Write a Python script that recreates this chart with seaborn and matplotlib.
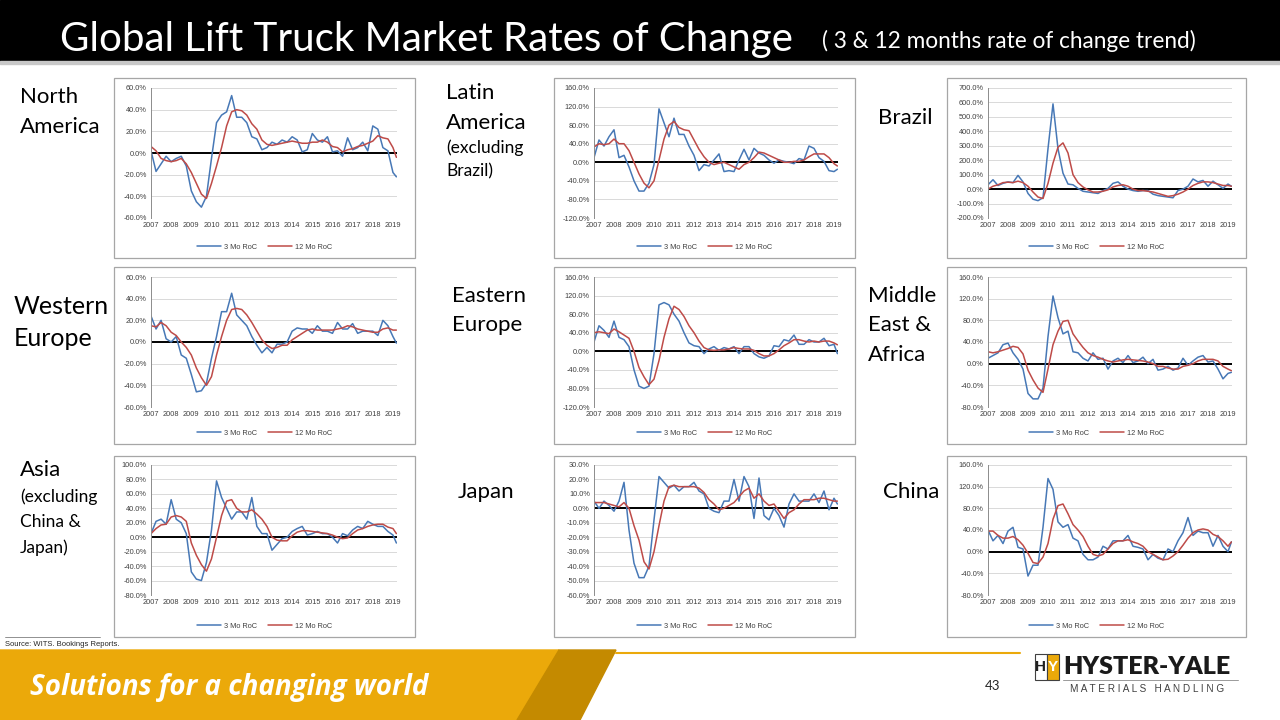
import numpy as np
import matplotlib
matplotlib.use("Agg")
import matplotlib.pyplot as plt
from matplotlib.patches import Rectangle, Polygon
from matplotlib.lines import Line2D
from matplotlib.ticker import FuncFormatter, MultipleLocator
import seaborn as sns

# quarterly readings Jan 2007 .. Jan 2019, plus the last one (Mar 2019)
periods = np.r_[np.arange(2007, 2019.01, 0.25), 2019.17]
years = list(range(2007, 2020))

# 3 month / 12 month rates of change, in %
na_3mo = [2, -17, -10, -3,  -8, -5, -3, -12,  -35, -45, -50, -40,  -5, 28, 35, 38,
          53, 33, 33, 28,  15, 13, 3, 5,  10, 8, 12, 10,  15, 12, 1, 3,
          18, 12, 10, 15,  1, 2, -3, 14,  3, 5, 10, 2,  25, 22, 5, 2,  -18, -22]
na_12mo = [6, 2, -5, -7,  -8, -7, -5, -10,  -18, -28, -38, -42,  -28, -12, 5, 25,
           38, 40, 39, 35,  27, 22, 12, 8,  7, 8, 9, 10,  11, 10, 9, 9,
           10, 10, 12, 10,  6, 5, 1, 3,  4, 6, 7, 9,  11, 16, 14, 13,  5, -4]

la_3mo = [10, 48, 35, 55,  70, 10, 15, -10,  -40, -62, -62, -45,  -5, 115, 85, 55,
          95, 60, 60, 35,  15, -18, -5, -8,  5, 18, -20, -18,  -20, 5, 28, 5,
          30, 20, 15, 5,  -2, 5, 2, 0,  -3, 8, 5, 35,  30, 10, 2, -18,  -20, -15]
la_12mo = [33, 40, 38, 40,  50, 40, 40, 25,  0, -25, -45, -55,  -40, 5, 50, 80,
           88, 75, 70, 68,  48, 28, 12, 0,  -5, -2, 0, -5,  -10, -15, -5, 0,
           10, 22, 20, 15,  10, 5, 0, 0,  2, 2, 5, 12,  18, 18, 18, 10,  -3, -8]

br_3mo = [30, 65, 25, 40,  50, 45, 95, 50,  -30, -70, -80, -60,  280, 590, 280, 110,
          35, 30, 5, -15,  -20, -25, -30, -10,  5, 40, 50, 20,  0, -10, -15, -10,
          -10, -35, -45, -50,  -55, -60, -10, 0,  20, 70, 50, 60,  20, 55, 30, 5,  35, 20]
br_12mo = [0, 20, 30, 45,  48, 45, 55, 45,  20, -20, -55, -65,  40, 180, 290, 320,
           250, 100, 45, 15,  -5, -20, -20, -15,  -5, 15, 25, 30,  20, 0, -10, -10,
           -15, -20, -30, -40,  -50, -45, -35, -20,  0, 25, 40, 50,  50, 45, 35, 25,  25, 20]

we_3mo = [24, 12, 20, 3,  0, 5, -12, -15,  -30, -46, -45, -38,  -15, 5, 28, 28,
          45, 25, 20, 15,  5, -3, -10, -5,  -10, -2, -2, 0,  10, 13, 12, 12,
          8, 15, 10, 10,  8, 18, 12, 12,  17, 8, 10, 10,  10, 6, 20, 15,  5, -1]
we_12mo = [15, 14, 18, 15,  9, 6, 0, -5,  -12, -24, -33, -40,  -32, -12, 5, 20,
           30, 31, 30, 25,  18, 10, 2, -3,  -6, -5, -3, -3,  2, 5, 8, 11,
           12, 11, 11, 11,  11, 12, 13, 15,  14, 12, 11, 10,  9, 9, 12, 13,  11, 11]

ee_3mo = [20, 55, 45, 30,  65, 30, 25, 10,  -40, -75, -80, -75,  -5, 100, 105, 100,
          80, 65, 40, 18,  12, 10, -5, 5,  10, 2, 8, 5,  10, -5, 10, 10,
          -5, -12, -15, -10,  12, 10, 25, 22,  35, 15, 15, 25,  20, 20, 28, 12,  15, -5]
ee_12mo = [40, 42, 40, 38,  48, 42, 35, 28,  0, -35, -55, -72,  -60, -20, 30, 70,
           97, 90, 75, 55,  40, 22, 8, 3,  2, 3, 3, 5,  8, 6, 5, 5,
           2, -5, -10, -10,  -5, 3, 12, 18,  25, 25, 22, 20,  22, 20, 22, 22,  18, 14]

me_3mo = [10, 15, 20, 35,  38, 20, 8, -10,  -55, -65, -65, -45,  50, 125, 85, 55,
          60, 22, 20, 10,  5, 20, 8, 10,  -10, 5, 10, 2,  15, 2, 5, 12,
          0, 8, -12, -10,  -5, -12, -8, 10,  -3, 5, 12, 15,  3, 5, -10, -28,  -18, -16]
me_12mo = [22, 20, 22, 25,  28, 32, 30, 18,  -12, -30, -45, -53,  -10, 35, 60, 78,
           80, 55, 42, 30,  20, 15, 12, 8,  5, 3, 5, 7,  8, 7, 6, 5,
           3, 0, -5, -5,  -8, -10, -10, -5,  -3, 0, 5, 8,  8, 8, 5, -5,  -10, -13]

as_3mo = [5, 22, 25, 18,  52, 25, 20, 5,  -48, -58, -60, -35,  10, 78, 55, 40,
          25, 35, 35, 25,  55, 15, 5, 5,  -18, -10, -2, 0,  8, 12, 15, 3,
          5, 8, 5, 5,  0, -8, 5, 2,  10, 15, 12, 22,  18, 15, 15, 8,  3, -8]
as_12mo = [5, 12, 17, 18,  28, 30, 28, 22,  -8, -25, -38, -47,  -30, 0, 30, 50,
           52, 40, 35, 35,  38, 32, 25, 15,  0, -4, -5, -5,  2, 7, 9, 9,
           8, 7, 6, 5,  3, 0, -2, -1,  5, 10, 12, 15,  17, 18, 18, 14,  12, 5]

jp_3mo = [5, 0, 5, 2,  -2, 5, 18, -15,  -38, -48, -48, -40,  -8, 22, 18, 14,
          16, 12, 15, 15,  18, 12, 10, 0,  -2, -3, 5, 5,  20, 5, 22, 15,
          -7, 21, -5, -8,  0, -5, -13, 3,  10, 5, 5, 5,  10, 4, 12, -1,  7, 3]
jp_12mo = [4, 4, 4, 3,  2, 1, 4, 0,  -12, -22, -37, -42,  -30, -12, 5, 15,
           16, 15, 15, 15,  15, 14, 11, 6,  3, -1, 0, 2,  4, 8, 12, 14,
           7, 10, 5, 2,  3, -2, -7, -3,  -1, 3, 6, 6,  6, 7, 7, 6,  5, 5]

cn_3mo = [40, 20, 30, 15,  38, 45, 8, 5,  -45, -25, -25, 45,  135, 115, 55, 45,
          50, 25, 20, -5,  -15, -15, -10, 10,  5, 20, 20, 20,  30, 10, 8, 5,
          -15, -5, -12, -15,  5, 0, 20, 35,  63, 30, 38, 35,  35, 10, 30, 10,  0, 18]
cn_12mo = [38, 38, 30, 25,  25, 28, 22, 12,  -3, -20, -22, -10,  15, 60, 85, 88,
           70, 50, 40, 28,  10, -5, -8, -5,  5, 15, 20, 20,  22, 18, 15, 10,
           0, -5, -10, -15,  -14, -8, 0, 12,  25, 35, 40, 42,  40, 32, 28, 20,  10, 18]

series_names = ["3 Mo RoC", "12 Mo RoC"]

charts = [
    (na_3mo, na_12mo, (-60, 60, 20), 0, 0),
    (la_3mo, la_12mo, (-120, 160, 40), 1, 0),
    (br_3mo, br_12mo, (-200, 700, 100), 2, 0),
    (we_3mo, we_12mo, (-60, 60, 20), 0, 1),
    (ee_3mo, ee_12mo, (-120, 160, 40), 1, 1),
    (me_3mo, me_12mo, (-80, 160, 40), 2, 1),
    (as_3mo, as_12mo, (-80, 100, 20), 0, 2),
    (jp_3mo, jp_12mo, (-60, 30, 10), 1, 2),
    (cn_3mo, cn_12mo, (-80, 160, 40), 2, 2),
]

# layout in pixels
W, H = 1280, 720
col_box = [(114, 415), (554, 855), (947, 1246)]
col_plot = [(151, 397), (594, 838), (988, 1232)]
row_box = [(78, 258), (267, 444), (456, 637)]
row_plot = [(88, 218), (277, 407), (465, 595)]

BLUE = "#4778B6"
RED = "#BE4B48"
GOLD = "#EBA90A"


def fx(x):
    return x / W


def fy(y):
    return 1 - y / H


sns.set_style("white")
plt.rcParams['font.family'] = ['Liberation Sans', 'DejaVu Sans']
narrow = ['Lato', 'DejaVu Sans']

fig = plt.figure(figsize=(12.8, 7.2), dpi=100)
fig.patch.set_facecolor("white")

# title bar
fig.add_artist(Rectangle((0, fy(61)), 1, 61 / H, transform=fig.transFigure, color="black"))
fig.add_artist(Rectangle((0, fy(64)), 1, 3 / H, transform=fig.transFigure, color="#c8c8c8"))
fig.text(fx(60), fy(51), "Global Lift Truck Market Rates of Change", color="white",
         fontsize=29, family=narrow, va="baseline")
fig.text(fx(822), fy(48), "( 3 & 12 months rate of change trend)", color="white",
         fontsize=16.3, family=narrow, va="baseline")

pct = FuncFormatter(lambda v, p: f"{v:.1f}%")

for blue, red, (lo, hi, step), col, row in charts:
    bl, br = col_box[col]
    bt, bb = row_box[row]
    fig.add_artist(Rectangle((fx(bl), fy(bb)), (br - bl) / W, (bb - bt) / H,
                             transform=fig.transFigure, fill=False, ec="#a6a6a6", lw=0.9))
    l, r = col_plot[col]
    t, b = row_plot[row]
    ax = fig.add_axes([fx(l), fy(b), (r - l) / W, (b - t) / H])
    ax.set_facecolor("white")
    ax.set_axisbelow(True)
    ax.yaxis.grid(True, color="#d9d9d9", lw=0.7)
    ax.axhline(0, color="black", lw=1.4, zorder=1.5)
    sns.lineplot(x=periods, y=blue, ax=ax, color=BLUE, lw=1.1, legend=False)
    sns.lineplot(x=periods, y=red, ax=ax, color=RED, lw=1.1, legend=False)
    ax.set_xlim(2007, 2019.2)
    ax.set_ylim(lo, hi)
    ax.yaxis.set_major_locator(MultipleLocator(step))
    ax.yaxis.set_major_formatter(pct)
    ax.set_xticks(years)
    ax.set_xticklabels([str(y) for y in years])
    ax.tick_params(length=0, labelsize=5.3, pad=3, colors="#404040")
    ax.set_xlabel("")
    ax.set_ylabel("")
    for s in ["top", "right", "bottom"]:
        ax.spines[s].set_visible(False)
    ax.spines["left"].set_color("#8c8c8c")
    ax.spines["left"].set_linewidth(0.7)
    handles = [Line2D([], [], color=BLUE, lw=1.1), Line2D([], [], color=RED, lw=1.1)]
    fig.legend(handles, series_names, loc="center",
               bbox_to_anchor=(fx((bl + br) / 2), fy(bb - 11)), ncol=2, frameon=False,
               fontsize=5.3, handlelength=3.2, handletextpad=0.4, columnspacing=1.6,
               labelcolor="#404040")

# region labels
label_font = ['Lato', 'DejaVu Sans']
region_labels = [
    ("North", 20, 97, 16), ("America", 20, 127, 16),
    ("Latin", 446, 93, 16), ("America", 446, 123, 16),
    ("(excluding", 446, 148, 12.5), ("Brazil)", 446, 171, 12.5),
    ("Brazil", 878, 118, 16),
    ("Western", 14, 307, 18), ("Europe", 14, 339, 18),
    ("Eastern", 452, 296, 16), ("Europe", 452, 325, 16),
    ("Middle", 868, 296, 16), ("East &", 868, 325, 16), ("Africa", 868, 355, 16),
    ("Asia", 20, 470, 16), ("(excluding", 20, 497, 12.5),
    ("China &", 20, 522, 12.5), ("Japan)", 20, 548, 12.5),
    ("Japan", 458, 492, 16),
    ("China", 883, 492, 16),
]
for txt, x, y, size in region_labels:
    fig.text(fx(x), fy(y), txt, fontsize=size, family=label_font, va="center", color="black")

# footnote
fig.add_artist(Line2D([fx(5), fx(100)], [fy(637), fy(637)], color="#7f7f7f", lw=0.6))
fig.text(fx(5), fy(645), "Source: WITS. Bookings Reports.", fontsize=5.5, va="center")

# bottom banner
fig.add_artist(Polygon([(fx(0), fy(650)), (fx(559), fy(650)), (fx(517), fy(720)), (fx(0), fy(720))],
                       closed=True, transform=fig.transFigure, color=GOLD))
fig.add_artist(Polygon([(fx(559), fy(650)), (fx(616), fy(650)), (fx(580), fy(720)), (fx(517), fy(720))],
                       closed=True, transform=fig.transFigure, color="#C48A00"))
fig.add_artist(Line2D([fx(616), fx(1020)], [fy(653), fy(653)], color=GOLD, lw=1.5))
fig.text(fx(30), fy(688), "Solutions for a changing world", color="white", fontsize=20,
         fontweight="bold", fontstyle="italic", family=['Open Sans', 'DejaVu Sans'], va="center")
fig.text(fx(985), fy(686), "43", fontsize=9.5, va="center", family=['Lato', 'DejaVu Sans'])

# logo
fig.add_artist(Rectangle((fx(1035), fy(680)), 12 / W, 26 / H, transform=fig.transFigure,
                         fc="white", ec="#404040", lw=0.8))
fig.add_artist(Rectangle((fx(1047), fy(680)), 12 / W, 26 / H, transform=fig.transFigure,
                         fc=GOLD, ec="#404040", lw=0.8))
fig.text(fx(1041), fy(667), "H", fontsize=11, fontweight="bold", ha="center", va="center",
         color="#202020")
fig.text(fx(1053), fy(667), "Y", fontsize=11, fontweight="bold", ha="center", va="center",
         color="white")
fig.text(fx(1063), fy(667), "HYSTER-YALE", fontsize=18, fontweight="heavy", va="center",
         color="#1a1a1a", family=['Lato', 'DejaVu Sans'])
fig.add_artist(Line2D([fx(1063), fx(1238)], [fy(680), fy(680)], color="#9a9a9a", lw=0.7))
fig.text(fx(1070), fy(689), "M A T E R I A L S   H A N D L I N G", fontsize=7.2,
         va="center", color="#404040")

fig.savefig("out.png", dpi=100)
